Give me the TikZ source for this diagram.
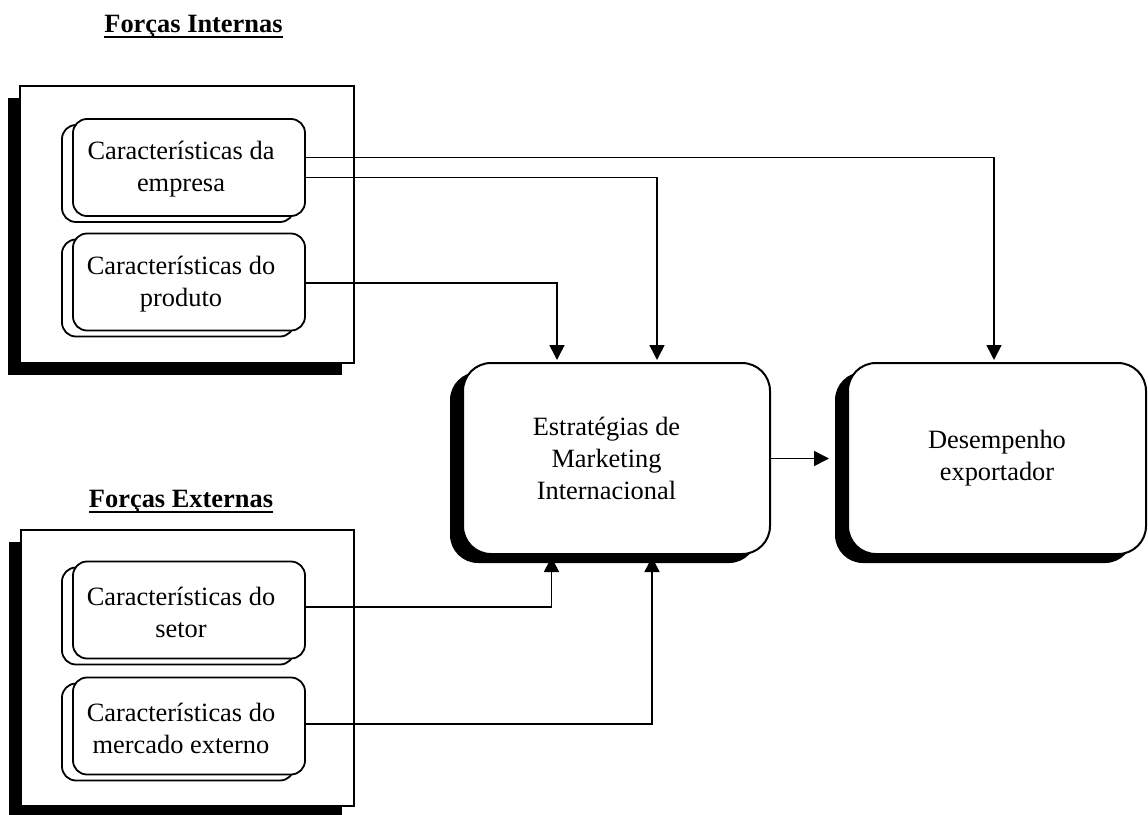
\documentclass[tikz,border=0pt]{standalone}
\usepackage{fontspec}
\setmainfont{Liberation Serif}
\usetikzlibrary{shadows,arrows.meta}
\begin{document}
\begin{tikzpicture}[x=1pt,y=-1pt,
  font=\fontsize{26.4}{32}\selectfont,
  frame/.style={draw, line width=2pt, fill=white,
    minimum width=334pt, minimum height=277pt,
    general shadow={fill=black, shadow xshift=-12pt, shadow yshift=-12pt}},
  card/.style={draw, line width=1.8pt, fill=white, rounded corners=14pt,
    inner sep=0pt, minimum width=232pt, minimum height=97pt,
    copy shadow={draw, fill=white, line width=1.8pt,
      shadow xshift=-11pt, shadow yshift=-6pt},
    label={[align=center, xshift=-8pt, yshift=-2pt]center:#1}},
  bigbox/.style={draw, line width=2pt, fill=white, rounded corners=28pt,
    align=center, minimum height=191pt,
    general shadow={fill=black, shadow xshift=-13pt, shadow yshift=-9pt}},
  title/.style={font=\fontsize{26.4}{31}\selectfont\bfseries,
    inner sep=0pt, anchor=base},
  uline/.style={line width=2pt},
  conn/.style={line width=1.6pt, -{Triangle[length=15pt,width=15pt]}},
]
\useasboundingbox (0,0) rectangle (1148,814);

% group frames
\node[frame] (fi) at (187,224.5) {};
\node[frame, minimum width=333pt, minimum height=276pt] (fe) at (187.5,668) {};

% group titles
\node[title] (ti) at (193.5,32) {Forças Internas};
\node[title] (te) at (181,507) {Forças Externas};
\draw[uline] ([yshift=-5pt]ti.base west) -- ([yshift=-5pt]ti.base east);
\draw[uline] ([yshift=-5pt]te.base west) -- ([yshift=-5pt]te.base east);

% factor cards
\node[card={Características da\\empresa}] (emp) at (189,167.5) {};
\node[card={Características do\\produto}] (prd) at (189,282) {};
\node[card={Características do\\setor}] (set) at (189,610) {};
\node[card={Características do\\mercado externo}] (mer) at (189,726) {};

% central blocks
\node[bigbox, minimum width=307pt,
  label={[align=center, xshift=-10pt]center:Estratégias de\\Marketing\\Internacional}]
  (mid) at (616.5,458.5) {};
\node[bigbox, minimum width=298pt] (des) at (997,458.5) {Desempenho\\exportador};

% connectors
\draw[conn, shorten >=2pt] ([yshift=10pt]emp.east) -| ([xshift=-3pt]des.north);
\draw[conn, shorten >=2pt] ([yshift=-10pt]emp.east) -| ([xshift=40.5pt]mid.north);
\draw[conn, shorten >=2pt] ([yshift=-1pt]prd.east) -| ([xshift=-59.5pt]mid.north);
\draw[conn, shorten >=2pt] ([yshift=3pt]set.east) -| ([xshift=-65pt]mid.south);
\draw[conn, shorten >=2pt] ([yshift=2pt]mer.east) -| ([xshift=35.5pt]mid.south);
\draw[conn] (mid.east) -- ([xshift=-18pt]des.west);
\end{tikzpicture}
\end{document}
